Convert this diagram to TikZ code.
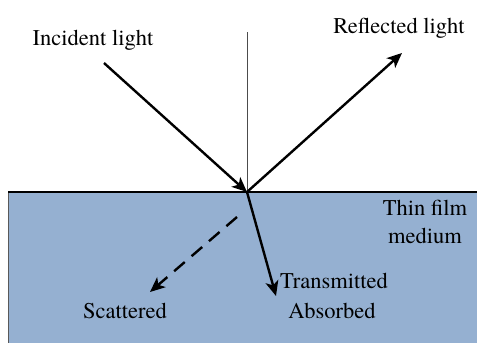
\documentclass[tikz,border=0pt]{standalone}
\usepackage{fontspec}
\setmainfont{texgyretermes-regular.otf}
\usetikzlibrary{arrows.meta}
\definecolor{filmblue}{RGB}{149,176,209}
\tikzset{
  ray/.style={line width=2.4pt,-{Stealth[length=15pt,width=13pt,inset=4pt]}},
  lbl/.style={font=\rmfamily\fontsize{22.5}{28}\selectfont, inner sep=0pt, anchor=base}
}
\begin{document}
\begin{tikzpicture}[x=1pt,y=-1pt]
\useasboundingbox (0,0) rectangle (477,343);
% film
\fill[filmblue] (8,192) rectangle (477,343);
\draw[gray!70!black, line width=0.8pt] (8,192) -- (8,343);
\draw[line width=2.6pt] (8,192) -- (477,192);
% normal
\coordinate (ntop) at (247,32);
\coordinate (P) at (247,192);
\draw[gray!60!black, line width=0.7pt] (ntop) -- (P);
% rays
\coordinate (inc) at (104,63);
\coordinate (refl) at (402,53);
\coordinate (trans) at (276,296);
\coordinate (sc0) at (237,217);
\coordinate (sc1) at (150,292);
\draw[ray] (inc) -- (P);
\draw[ray] (P) -- (refl);
\draw[ray] (P) -- (trans);
\draw[ray, dash pattern=on 14pt off 9pt] (sc0) -- (sc1);
% labels
\node[lbl] (tinc) at (93,45) {Incident light};
\node[lbl] (trefl) at (399,33) {Reflected light};
\node[lbl] (tfilm) at (425,215) {Thin film};
\node[lbl] (tmed) at (425,243) {medium};
\node[lbl] (ttrans) at (334,288) {Transmitted};
\node[lbl] (tabs) at (332,318) {Absorbed};
\node[lbl] (tscat) at (125,318) {Scattered};
\end{tikzpicture}
\end{document}
